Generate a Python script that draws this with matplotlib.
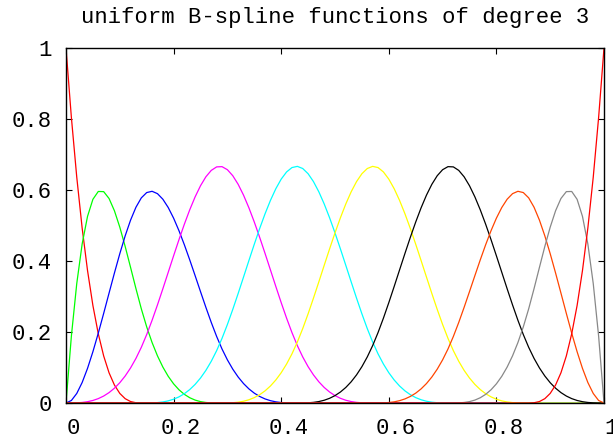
import numpy as np
import matplotlib
matplotlib.use('Agg')
import matplotlib.pyplot as plt
import matplotlib.transforms as mtransforms

# clamped uniform knot vector, degree 3 -> 10 basis functions
degree = 3
knots = [0, 0, 0, 0, 1/7, 2/7, 3/7, 4/7, 5/7, 6/7, 1, 1, 1, 1]
colours = ['#ff0000', '#00ff00', '#0000ff', '#ff00ff', '#00ffff',
           '#ffff00', '#000000', '#ff4500', '#888888', '#ff0000']
xticks = [0, 0.2, 0.4, 0.6, 0.8, 1]
xtick_labels = ['0', '0.2', '0.4', '0.6', '0.8', '1']
yticks = [0, 0.2, 0.4, 0.6, 0.8, 1]
ytick_labels = ['0', '0.2', '0.4', '0.6', '0.8', '1']
title = 'uniform B-spline functions of degree 3'


# Cox-de Boor recursion
def basis(i, p, t, x):
    if p == 0:
        last = (t[i + 1] == t[-1]) & (t[i] < t[i + 1])
        return np.where((x >= t[i]) & ((x < t[i + 1]) | (last & (x == t[-1]))), 1.0, 0.0)
    out = np.zeros_like(x)
    if t[i + p] > t[i]:
        out += (x - t[i]) / (t[i + p] - t[i]) * basis(i, p - 1, t, x)
    if t[i + p + 1] > t[i + 1]:
        out += (t[i + p + 1] - x) / (t[i + p + 1] - t[i + 1]) * basis(i + 1, p - 1, t, x)
    return out


x = np.linspace(0, 1, 101)
n_funcs = len(knots) - degree - 1

fig = plt.figure(figsize=(6.13, 4.38), dpi=100)
ax = fig.add_axes([66 / 613, 1 - 403 / 438, 538 / 613, 355 / 438])

for i in range(n_funcs):
    ax.plot(x, basis(i, degree, knots, x), color=colours[i], lw=0.9)

mono = 'Liberation Mono'
ax.set_xlim(0, 1)
ax.set_ylim(0, 1)
ax.set_xticks(xticks)
ax.set_xticklabels(xtick_labels, family=mono, fontsize=16)
ax.set_yticks(yticks)
ax.set_yticklabels(ytick_labels, family=mono, fontsize=16)
ax.tick_params(direction='in', length=4, width=0.8, top=True, right=True)
ax.tick_params(axis='x', pad=11)
ax.tick_params(axis='y', pad=10)
for s in ax.spines.values():
    s.set_linewidth(1.0)

# gnuplot puts x labels slightly right of the tick
shift = mtransforms.ScaledTranslation(7 / 100, 0, fig.dpi_scale_trans)
for lab in ax.get_xticklabels():
    lab.set_transform(lab.get_transform() + shift)

fig.text(335 / 613, 1 - 18 / 438, title, family=mono, fontsize=16,
         ha='center', va='center')

fig.savefig('out.png', dpi=100)
